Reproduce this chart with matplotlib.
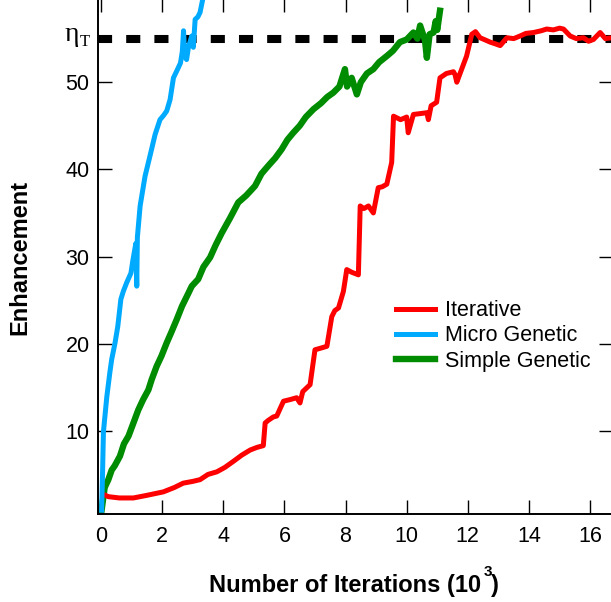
import matplotlib
matplotlib.use("Agg")
import matplotlib.pyplot as plt
import matplotlib.transforms as mtransforms

# data (x in 10^3 iterations)
red_x = [0.15, 0.24, 0.6, 1.06, 1.5, 2.04, 2.4, 2.69, 3.0, 3.24, 3.5, 3.79, 4.05, 4.33, 4.6, 4.88,
         5.1, 5.31, 5.37, 5.47, 5.64, 5.75, 5.97, 6.2, 6.4, 6.51, 6.6, 6.84, 7.0, 7.2, 7.39, 7.55,
         7.65, 7.77, 7.93, 8.04, 8.2, 8.42, 8.48, 8.6, 8.75, 8.91, 9.07, 9.2, 9.35, 9.51, 9.57, 9.8,
         10.0, 10.05, 10.22, 10.45, 10.66, 10.71, 10.8, 10.98, 11.09, 11.3, 11.53, 11.58, 11.64, 11.8,
         11.96, 12.13, 12.25, 12.4, 12.6, 12.73, 12.9, 13.06, 13.28, 13.5, 13.71, 13.9, 14.15, 14.4,
         14.58, 14.8, 15.0, 15.13, 15.35, 15.55, 15.78, 15.95, 16.11, 16.33, 16.5, 16.7]
red_y = [2.6, 2.45, 2.3, 2.3, 2.6, 3.0, 3.5, 4.0, 4.2, 4.4, 5.0, 5.3, 5.8, 6.5, 7.2, 7.8,
         8.1, 8.3, 10.9, 11.2, 11.6, 11.7, 13.4, 13.6, 13.8, 13.2, 14.5, 15.3, 19.3, 19.5, 19.7, 23.1,
         23.8, 24.1, 26.0, 28.5, 28.2, 27.9, 35.8, 35.5, 35.8, 35.0, 37.9, 38.0, 38.3, 40.8, 46.1, 45.7,
         46.0, 44.2, 46.3, 46.4, 46.5, 45.7, 47.3, 47.7, 50.5, 51.0, 51.2, 50.9, 50.0, 51.5,
         53.0, 55.5, 55.8, 55.1, 54.8, 54.6, 54.4, 54.2, 55.1, 55.0, 55.3, 55.6, 55.7, 55.9,
         56.1, 56.0, 56.2, 56.1, 55.3, 55.0, 55.1, 54.7, 54.9, 55.7, 55.0, 55.1]

blue_x = [0.02, 0.05, 0.08, 0.19, 0.29, 0.35, 0.46, 0.55, 0.65, 0.73, 0.84, 0.98, 1.04, 1.09, 1.14,
          1.17, 1.19, 1.28, 1.36, 1.44, 1.6, 1.77, 1.93, 2.05, 2.15, 2.26, 2.37, 2.48, 2.6, 2.66,
          2.70, 2.74, 2.80, 2.86, 2.97, 3.02, 3.08, 3.17, 3.24, 3.31]
blue_y = [0.9, 5.0, 9.9, 13.9, 16.7, 18.2, 20.1, 22.0, 25.1, 26.0, 27.0, 28.1, 29.5, 30.5, 31.5,
          26.6, 32.2, 35.8, 37.5, 39.2, 41.5, 44.0, 45.7, 46.2, 46.7, 48.0, 50.5, 51.3, 52.2, 53.5,
          55.9, 53.0, 52.6, 54.0, 55.3, 54.0, 57.2, 57.5, 58.0, 59.2]

green_x = [0.02, 0.12, 0.24, 0.35, 0.45, 0.62, 0.75, 0.9, 1.05, 1.22, 1.38, 1.55, 1.66, 1.82, 1.98,
           2.15, 2.3, 2.48, 2.65, 2.86, 2.97, 3.18, 3.35, 3.57, 3.75, 3.95, 4.22, 4.49, 4.75, 5.04,
           5.25, 5.47, 5.7, 5.91, 6.1, 6.29, 6.5, 6.7, 6.95, 7.2, 7.4, 7.6, 7.8, 7.98, 8.05, 8.2,
           8.37, 8.5, 8.7, 8.91, 9.1, 9.35, 9.55, 9.78, 10.0, 10.22, 10.35, 10.44, 10.6, 10.66,
           10.75, 10.88, 10.95, 11.0, 11.09]
green_y = [0.9, 3.5, 4.4, 5.5, 6.0, 7.1, 8.5, 9.4, 10.8, 12.4, 13.6, 14.7, 15.9, 17.4, 18.6,
           20.1, 21.3, 22.8, 24.3, 25.8, 26.6, 27.4, 28.8, 29.9, 31.3, 32.7, 34.4, 36.2, 37.0, 38.1,
           39.5, 40.4, 41.3, 42.3, 43.4, 44.2, 45.0, 46.0, 46.9, 47.6, 48.3, 48.8, 49.5, 51.5, 49.5, 50.5,
           48.6, 50.0, 51.0, 51.5, 52.3, 53.0, 53.6, 54.6, 54.9, 55.7, 55.0, 56.5, 54.8, 52.8,
           55.5, 55.7, 57.0, 56.0, 58.2]

eta_T = 55.0
labels = ["Iterative", "Micro Genetic", "Simple Genetic"]
colors = ["#FF0000", "#00AAFF", "#008C00"]

plt.rcParams['font.family'] = ['Liberation Sans', 'DejaVu Sans']

fig = plt.figure(figsize=(6.11, 6.02), dpi=100)
ax = fig.add_axes([98 / 611, 88 / 602, 515 / 611, 516 / 602])

ax.axhline(eta_T, color="black", lw=5.8, ls=(0, (1.75, 1.75)), zorder=1)
ax.plot(red_x, red_y, color=colors[0], lw=3.6, label=labels[0], zorder=3)
ax.plot(blue_x, blue_y, color=colors[1], lw=3.6, label=labels[1], zorder=3)
ax.plot(green_x, green_y, color=colors[2], lw=4.6, label=labels[2], zorder=2)

ax.set_xlim(-0.098, 16.75)
ax.set_ylim(0.46, 59.66)
ax.set_xticks(range(0, 17, 2))
ax.set_yticks([10, 20, 30, 40, 50])
ax.tick_params(direction="in", length=10, width=1, labelsize=15.5, top=True, right=True)
ax.tick_params(axis="x", pad=9)
ax.tick_params(axis="y", pad=6)
for s in ax.spines.values():
    s.set_linewidth(1.4)

# eta_T label on the left
tr = mtransforms.blended_transform_factory(ax.transAxes, ax.transData)
ax.text(-0.036, eta_T + 0.5, "η", transform=tr, ha="right", va="center",
        fontsize=20, family="Liberation Serif")
ax.text(-0.016, eta_T - 0.4, "T", transform=tr, ha="right", va="center",
        fontsize=12, family="Liberation Serif")

fig.text(20 / 611, 345 / 602, "Enhancement", rotation=90, ha="center", va="center",
         fontsize=17, fontweight="bold")
fig.text(481 / 611, 10 / 602, "Number of Iterations (10", ha="right", va="baseline",
         fontsize=17, fontweight="bold")
fig.text(484 / 611, 26 / 602, "3", ha="left", va="baseline", fontsize=11, fontweight="bold")
fig.text(491 / 611, 10 / 602, ")", ha="left", va="baseline", fontsize=17, fontweight="bold")

ax.legend(loc="center left", bbox_to_anchor=(0.579, 0.345), frameon=False, fontsize=15.5,
          handlelength=1.8, handletextpad=0.45, labelspacing=0.2, borderpad=0, borderaxespad=0)

fig.savefig("out.png", dpi=100)
